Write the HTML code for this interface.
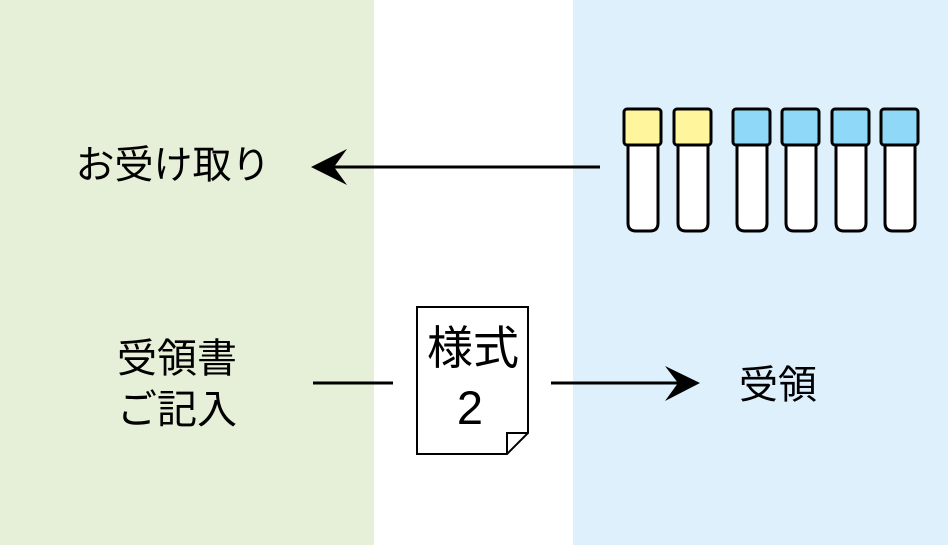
<!DOCTYPE html>
<html><head><meta charset="utf-8"><style>
html,body{margin:0;padding:0;background:#fff;}
svg{display:block;}
text{font-family:"Liberation Sans","Noto Sans CJK JP",sans-serif;fill:#000;}
</style></head><body>
<svg width="948" height="545" viewBox="0 0 948 545" xmlns="http://www.w3.org/2000/svg">
<rect x="0" y="0" width="374" height="545" fill="#e6efd7"/>
<rect x="573" y="0" width="375" height="545" fill="#def0fc"/>

<!-- tubes -->
<g stroke="#000" stroke-width="3" stroke-linejoin="round">
<path d="M628,145 V223 Q628,231 636,231 H650 Q658,231 658,223 V145" fill="#fff"/>
<rect x="624" y="109" width="37" height="36" rx="3" fill="#fff59d"/>
<path d="M678,145 V223 Q678,231 686,231 H700 Q708,231 708,223 V145" fill="#fff"/>
<rect x="674" y="109" width="37" height="36" rx="3" fill="#fff59d"/>
<path d="M737,145 V223 Q737,231 745,231 H759 Q767,231 767,223 V145" fill="#fff"/>
<rect x="733" y="109" width="37" height="36" rx="3" fill="#8fd8f8"/>
<path d="M786,145 V223 Q786,231 794,231 H808 Q816,231 816,223 V145" fill="#fff"/>
<rect x="782" y="109" width="37" height="36" rx="3" fill="#8fd8f8"/>
<path d="M836,145 V223 Q836,231 844,231 H858 Q866,231 866,223 V145" fill="#fff"/>
<rect x="832" y="109" width="37" height="36" rx="3" fill="#8fd8f8"/>
<path d="M885,145 V223 Q885,231 893,231 H907 Q915,231 915,223 V145" fill="#fff"/>
<rect x="881" y="109" width="37" height="36" rx="3" fill="#8fd8f8"/>
</g>

<!-- top arrow -->
<line x1="600" y1="167" x2="325" y2="167" stroke="#000" stroke-width="3"/>
<path d="M311,167 L347,149 L334,167 L347,185 Z" fill="#000"/>

<!-- bottom line and arrow -->
<line x1="313" y1="383" x2="393" y2="383" stroke="#000" stroke-width="3"/>
<line x1="551" y1="383" x2="686" y2="383" stroke="#000" stroke-width="3"/>
<path d="M700,383 L665,366 L678,383 L665,401 Z" fill="#000"/>

<!-- document -->
<path d="M417,307 H528 V433 L507,454 H417 Z" fill="#fff" stroke="#000" stroke-width="2"/>
<path d="M507,454 V433 H528" fill="none" stroke="#000" stroke-width="2"/>

<!-- texts -->
<text x="173" y="166" font-size="39" text-anchor="middle" dominant-baseline="central">お受け取り</text>
<text x="177" y="359" font-size="40" text-anchor="middle" dominant-baseline="central">受領書</text>
<text x="177" y="410" font-size="40" text-anchor="middle" dominant-baseline="central">ご記入</text>
<text x="778" y="386" font-size="39" text-anchor="middle" dominant-baseline="central">受領</text>
<text x="473" y="348" font-size="46" text-anchor="middle" dominant-baseline="central">様式</text>
<text x="470" y="424" font-size="47" text-anchor="middle">2</text>
</svg>
</body></html>
